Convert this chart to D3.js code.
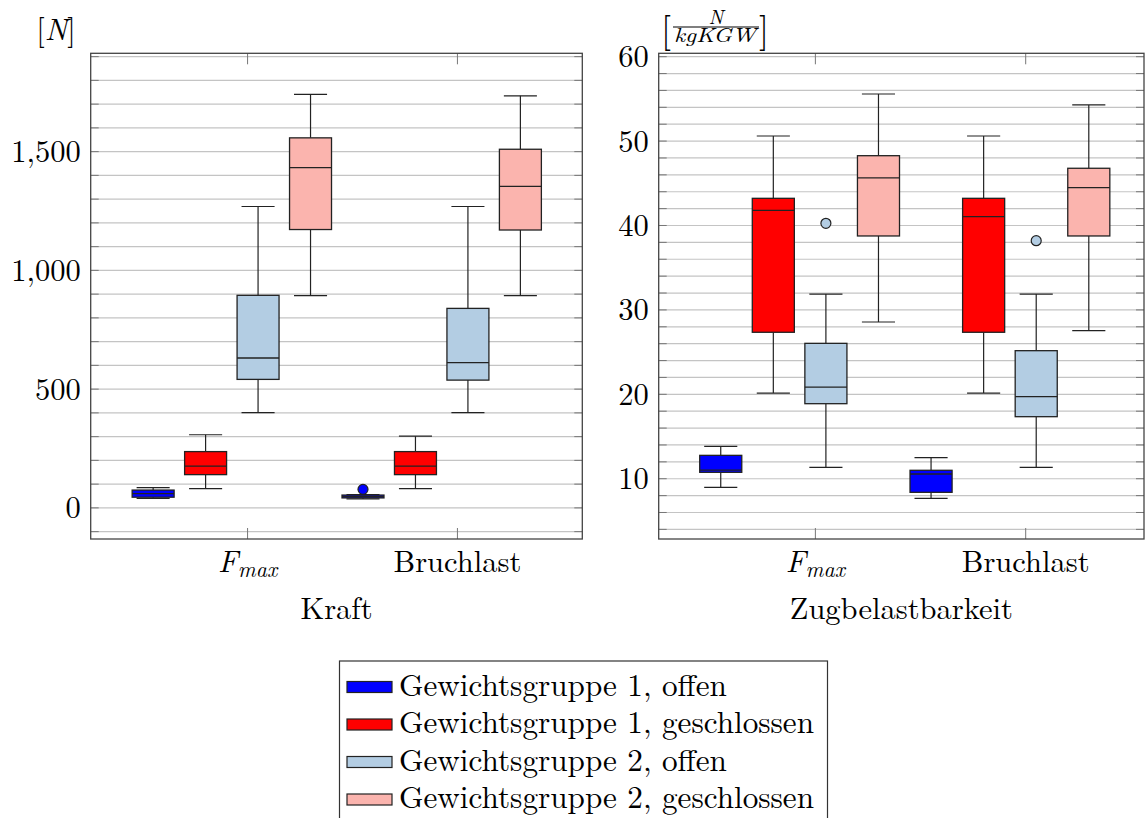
<!DOCTYPE html>
<html>
<head>
<meta charset="utf-8">
<script src="https://cdn.jsdelivr.net/npm/d3@7"></script>
<style>
  body { margin: 0; background: #fff; }
  svg { display: block; }
</style>
</head>
<body>
<svg id="chart" width="1145" height="818" font-family="Latin Modern Roman, CMU Serif, Liberation Serif, serif"></svg>
<script>
// === data === //
var groups = ["Gewichtsgruppe 1, offen", "Gewichtsgruppe 1, geschlossen",
  "Gewichtsgruppe 2, offen", "Gewichtsgruppe 2, geschlossen"]
var colors = ["#0000ff", "#ff0000", "#b3cde3", "#fbb4ae"]
var categories = ["Fmax", "Bruchlast"]

// [lower whisker, q1, median, q3, upper whisker] per group, Fmax first then Bruchlast
var kraftStats = [
  [40, 45, 60, 75, 85], [81, 140, 176, 237, 308], [401, 541, 631, 895, 1269], [894, 1172, 1433, 1558, 1741],
  [38, 42, 47, 54, 56], [81, 140, 176, 237, 302], [401, 538, 612, 840, 1269], [894, 1170, 1354, 1510, 1735]
]
var kraftOutliers = [[4, 78]]   // [box index, value]

var zugStats = [
  [8.98, 10.76, 11.03, 12.77, 13.84], [20.15, 27.35, 41.8, 43.22, 50.6], [11.35, 18.89, 20.86, 26.04, 31.88], [28.57, 38.76, 45.63, 48.27, 55.58],
  [7.68, 8.39, 10.56, 11.0, 12.49], [20.15, 27.35, 41.04, 43.22, 50.6], [11.35, 17.35, 19.72, 25.17, 31.88], [27.54, 38.76, 44.48, 46.78, 54.28]
]
var zugOutliers = [[2, 40.26], [6, 38.2]]

var kraftTicks = [0, 500, 1000, 1500]
var zugTicks = [10, 20, 30, 40, 50, 60]
var xTickPos = [2.8, 6.8]

var svg = d3.select("#chart")
var fontsize = 30.5

var boxWidth = 0.8
var capWidth = 0.63

function drawPanel(opt) {
  var x = d3.scaleLinear().domain(opt.xDomain).range(opt.xRange)
  var y = d3.scaleLinear().domain(opt.yDomain).range(opt.yRange)
  var g = svg.append("g")
  var x0 = opt.xRange[0], x1 = opt.xRange[1]
  var yTop = opt.yRange[1], yBot = opt.yRange[0]

  // grid
  var grid = d3.range(opt.gridStart, opt.yDomain[1], opt.gridStep)
  g.selectAll(".grid").data(grid).enter().append("line")
    .attr("x1", x0).attr("x2", x1)
    .attr("y1", function(d) { return y(d) }).attr("y2", function(d) { return y(d) })
    .attr("stroke", "#c4c4c4").attr("stroke-width", 1.2)

  // y ticks, both sides, inward
  g.selectAll(".tl").data(grid).enter().append("line")
    .attr("x1", x0).attr("x2", x0 + 8)
    .attr("y1", function(d) { return y(d) }).attr("y2", function(d) { return y(d) })
    .attr("stroke", "#777").attr("stroke-width", 1)
  g.selectAll(".tr").data(grid).enter().append("line")
    .attr("x1", x1).attr("x2", x1 - 8)
    .attr("y1", function(d) { return y(d) }).attr("y2", function(d) { return y(d) })
    .attr("stroke", "#777").attr("stroke-width", 1)

  // x ticks top + bottom
  xTickPos.forEach(function(p) {
    g.append("line").attr("x1", x(p)).attr("x2", x(p)).attr("y1", yTop).attr("y2", yTop + 11)
      .attr("stroke", "#777")
    g.append("line").attr("x1", x(p)).attr("x2", x(p)).attr("y1", yBot).attr("y2", yBot - 11)
      .attr("stroke", "#777")
  })

  // boxes
  opt.stats.forEach(function(s, i) {
    var pos = i + 1
    var col = colors[i % 4]
    var bx = g.append("g")
    bx.append("line").attr("x1", x(pos)).attr("x2", x(pos)).attr("y1", y(s[0])).attr("y2", y(s[1]))
      .attr("stroke", "#222").attr("stroke-width", 1.2)
    bx.append("line").attr("x1", x(pos)).attr("x2", x(pos)).attr("y1", y(s[3])).attr("y2", y(s[4]))
      .attr("stroke", "#222").attr("stroke-width", 1.2)
    ;[s[0], s[4]].forEach(function(v) {
      bx.append("line").attr("x1", x(pos - capWidth / 2)).attr("x2", x(pos + capWidth / 2))
        .attr("y1", y(v)).attr("y2", y(v)).attr("stroke", "#222").attr("stroke-width", 1.2)
    })
    bx.append("rect").attr("x", x(pos - boxWidth / 2)).attr("y", y(s[3]))
      .attr("width", x(pos + boxWidth / 2) - x(pos - boxWidth / 2))
      .attr("height", y(s[1]) - y(s[3]))
      .attr("fill", col).attr("stroke", "#222").attr("stroke-width", 1.3)
    bx.append("line").attr("x1", x(pos - boxWidth / 2)).attr("x2", x(pos + boxWidth / 2))
      .attr("y1", y(s[2])).attr("y2", y(s[2])).attr("stroke", "#222").attr("stroke-width", 1.3)
  })

  opt.outliers.forEach(function(o) {
    g.append("circle").attr("cx", x(o[0] + 1)).attr("cy", y(o[1])).attr("r", 5)
      .attr("fill", colors[o[0] % 4]).attr("stroke", "#222").attr("stroke-width", 1.2)
  })

  // frame
  g.append("rect").attr("x", x0).attr("y", yTop).attr("width", x1 - x0).attr("height", yBot - yTop)
    .attr("fill", "none").attr("stroke", "#444").attr("stroke-width", 1.3)

  // y tick labels
  g.selectAll(".yl").data(opt.ticks).enter().append("text")
    .attr("x", x0 - 10).attr("y", function(d) { return y(d) + 10.5 })
    .attr("text-anchor", "end").attr("font-size", fontsize)
    .text(function(d) { return opt.fmt(d) })

  // x labels
  var fl = g.append("text").attr("x", x(xTickPos[0])).attr("y", yBot + 33)
    .attr("text-anchor", "middle").attr("font-size", fontsize)
  fl.append("tspan").attr("font-style", "italic").text("F")
  fl.append("tspan").attr("font-style", "italic").attr("font-size", 22).attr("dy", 5).text("max")
  g.append("text").attr("x", x(xTickPos[1])).attr("y", yBot + 33)
    .attr("text-anchor", "middle").attr("font-size", fontsize).text(categories[1])

  g.append("text").attr("x", (x0 + x1) / 2).attr("y", yBot + 80)
    .attr("text-anchor", "middle").attr("font-size", fontsize).text(opt.title)
  return g
}

drawPanel({
  xDomain: [-0.19, 9.18], xRange: [90.7, 582.3],
  yDomain: [-131, 1914], yRange: [539, 53.3],
  gridStart: -100, gridStep: 100,
  stats: kraftStats, outliers: kraftOutliers, ticks: kraftTicks,
  fmt: d3.format(","), title: "Kraft"
})

drawPanel({
  xDomain: [-0.18, 9.05], xRange: [658.7, 1144],
  yDomain: [2.86, 60.4], yRange: [539, 53.3],
  gridStart: 4, gridStep: 2,
  stats: zugStats, outliers: zugOutliers, ticks: zugTicks,
  fmt: d3.format("d"), title: "Zugbelastbarkeit"
})

// y axis labels
var nl = svg.append("text").attr("x", 56).attr("y", 40).attr("text-anchor", "middle").attr("font-size", fontsize)
nl.append("tspan").text("[")
nl.append("tspan").attr("font-style", "italic").text("N")
nl.append("tspan").text("]")

var ul = svg.append("g")
ul.append("text").attr("x", 661).attr("y", 42).attr("font-size", 36).text("[")
ul.append("text").attr("x", 769).attr("y", 42).attr("font-size", 36).attr("text-anchor", "end").text("]")
ul.append("text").attr("x", 716).attr("y", 24).attr("font-size", 20).attr("font-style", "italic")
  .attr("text-anchor", "middle").text("N")
ul.append("line").attr("x1", 673).attr("x2", 759).attr("y1", 27).attr("y2", 27).attr("stroke", "#000").attr("stroke-width", 1.2)
ul.append("text").attr("x", 674).attr("y", 42).attr("font-size", 20).attr("font-style", "italic")
  .attr("textLength", 82).attr("lengthAdjust", "spacingAndGlyphs").text("kgKGW")

// legend
var leg = svg.append("g")
leg.append("rect").attr("x", 339.5).attr("y", 661).attr("width", 488).attr("height", 170)
  .attr("fill", "#fff").attr("stroke", "#333").attr("stroke-width", 1.2)
var rowY = d3.scaleLinear().domain([0, 3]).range([687, 799.5])
groups.forEach(function(name, i) {
  leg.append("rect").attr("x", 347).attr("y", rowY(i) - 5.5).attr("width", 45).attr("height", 11)
    .attr("fill", colors[i]).attr("stroke", "#222").attr("stroke-width", 1.2)
  leg.append("text").attr("x", 399).attr("y", rowY(i) + 8.5).attr("font-size", 31.2).text(name)
})
</script>
</body>
</html>
